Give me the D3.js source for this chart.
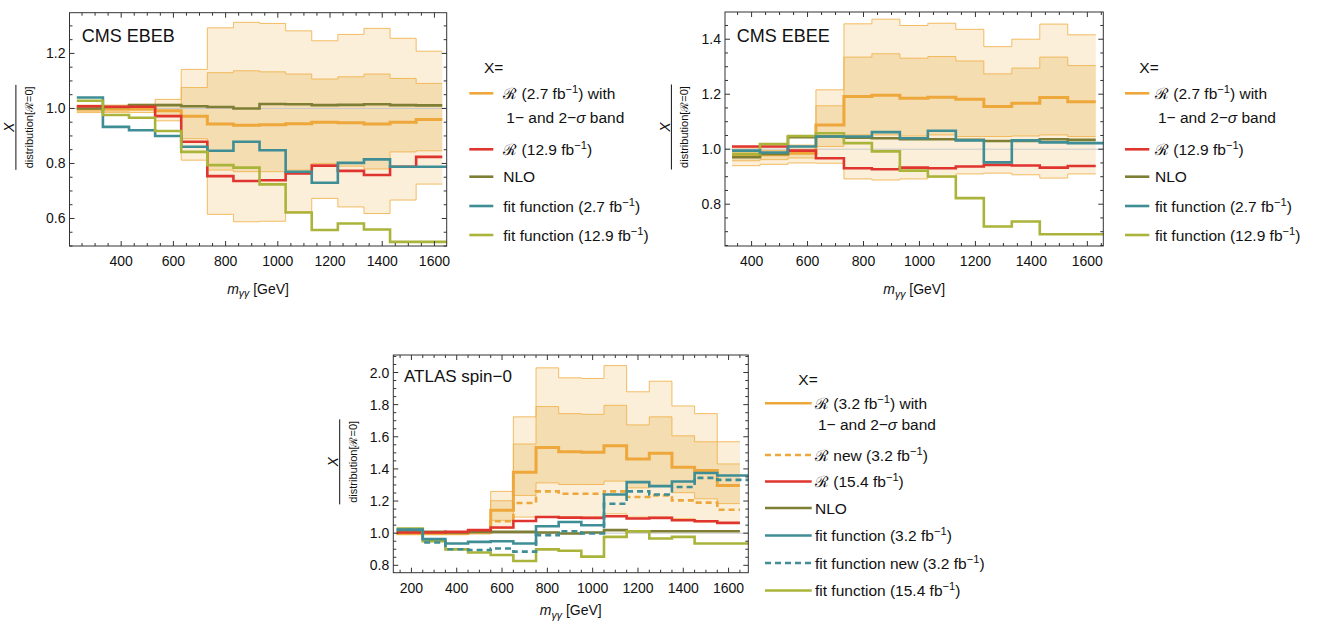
<!DOCTYPE html>
<html><head><meta charset="utf-8">
<script src="https://cdn.jsdelivr.net/npm/d3@7"></script>
<style>body{margin:0;background:#fff} text{font-family:"Liberation Sans",Arial,sans-serif;fill:#111}</style>
</head><body><svg id="c" width="1320" height="623"></svg>
<script>
// ---------------- DATA ----------------
// CMS EBEB
const ebebEdges = [230,330,430,530,630,730,830,930,1030,1130,1230,1330,1430,1530,1630];
const ebebR27   = [0.998,0.998,1.0,0.992,0.972,0.943,0.939,0.941,0.944,0.950,0.948,0.943,0.950,0.960];
const ebebR27s1hi = [1.005,1.005,1.008,1.015,1.076,1.130,1.137,1.133,1.125,1.107,1.115,1.125,1.109,1.091];
const ebebR27s1lo = [0.990,0.990,0.992,0.975,0.890,0.776,0.770,0.770,0.776,0.800,0.790,0.780,0.842,0.846];
const ebebR27s2hi = [1.012,1.012,1.015,1.033,1.142,1.293,1.313,1.309,1.282,1.246,1.269,1.291,1.255,1.208];
const ebebR27s2lo = [0.985,0.985,0.985,0.955,0.812,0.615,0.588,0.590,0.625,0.673,0.642,0.618,0.667,0.725];
const ebebR129  = [1.008,1.006,1.006,0.972,0.879,0.754,0.736,0.739,0.764,0.792,0.773,0.758,0.788,0.824];
const ebebNLO   = [1.000,1.005,1.012,1.012,1.008,1.005,1.000,1.016,1.015,1.012,1.013,1.015,1.012,1.011];
const ebebFit27 = [1.040,0.933,0.921,0.900,0.861,0.846,0.879,0.848,0.770,0.730,0.802,0.815,0.788,0.788];
const ebebFit129= [1.028,0.976,0.966,0.918,0.842,0.794,0.785,0.724,0.622,0.558,0.582,0.560,0.515,0.515];

// CMS EBEE
const ebeeEdges = [330,430,530,630,730,830,930,1030,1130,1230,1330,1430,1530,1630];
const ebeeR27   = [0.975,0.980,0.985,1.088,1.192,1.196,1.185,1.189,1.182,1.155,1.167,1.188,1.173];
const ebeeR27s1hi = [0.990,0.995,1.000,1.158,1.335,1.347,1.331,1.337,1.321,1.274,1.295,1.335,1.304];
const ebeeR27s1lo = [0.958,0.962,0.968,1.010,1.052,1.052,1.048,1.052,1.046,1.046,1.048,1.052,1.046];
const ebeeR27s2hi = [1.005,1.010,1.015,1.216,1.456,1.473,1.450,1.458,1.436,1.373,1.400,1.455,1.416];
const ebeeR27s2lo = [0.940,0.945,0.950,0.949,0.892,0.888,0.892,0.898,0.910,0.913,0.907,0.895,0.910];
const ebeeR129  = [1.010,1.010,0.995,0.967,0.931,0.927,0.933,0.931,0.937,0.943,0.941,0.933,0.939];
const ebeeNLO   = [0.971,0.983,1.044,1.046,1.042,1.040,1.036,1.036,1.034,1.030,1.030,1.036,1.034];
const ebeeFit27 = [0.995,0.988,1.010,1.046,1.046,1.062,1.040,1.067,1.032,0.952,1.032,1.025,1.022];
const ebeeFit129= [0.982,1.019,1.048,1.058,1.022,0.992,0.922,0.901,0.822,0.719,0.737,0.691,0.691];

// ATLAS spin-0
const atlasEdges = [135,250,350,450,550,650,750,850,950,1050,1150,1250,1350,1450,1550,1650];
const atlasR32   = [1.000,1.000,1.000,1.005,1.142,1.379,1.534,1.507,1.503,1.544,1.462,1.497,1.410,1.390,1.297];
const atlasR32s1hi = [1.005,1.005,1.005,1.015,1.202,1.555,1.788,1.744,1.740,1.796,1.674,1.724,1.606,1.569,1.431];
const atlasR32s1lo = [0.995,0.995,0.995,1.000,1.080,1.235,1.313,1.303,1.303,1.324,1.282,1.297,1.252,1.214,1.184];
const atlasR32s2hi = [1.010,1.010,1.010,1.020,1.260,1.724,2.029,1.967,1.963,2.043,1.880,1.946,1.792,1.744,1.569];
const atlasR32s2lo = [0.990,0.990,0.990,0.995,1.030,1.100,1.100,1.100,1.100,1.120,1.100,1.100,1.090,1.070,1.060];
const atlasRnew  = [1.000,1.000,1.000,1.005,1.074,1.188,1.260,1.245,1.245,1.260,1.225,1.235,1.204,1.190,1.146];
const atlasR154  = [1.004,1.004,1.008,1.019,1.035,1.076,1.101,1.097,1.095,1.105,1.091,1.095,1.080,1.074,1.064];
const atlasNLO   = [1.019,1.008,1.004,1.008,1.008,1.008,1.004,0.998,1.004,1.019,1.012,1.012,1.012,1.012,1.012];
const atlasFit32 = [1.023,0.963,0.936,0.946,0.950,0.936,1.043,1.070,1.049,1.241,1.318,1.293,1.322,1.375,1.359];
const atlasFitNew= [1.020,0.942,0.900,0.895,0.905,0.885,0.988,1.012,0.998,1.183,1.260,1.241,1.287,1.344,1.332];
const atlasFit154= [1.029,0.950,0.899,0.880,0.864,0.827,0.899,0.891,0.854,0.977,1.012,0.967,0.977,0.936,0.936];

// tick labels
const ebebXTicks = [400,600,800,1000,1200,1400,1600];
const ebebYTicks = [0.6,0.8,1.0,1.2];
const ebeeXTicks = [400,600,800,1000,1200,1400,1600];
const ebeeYTicks = [0.8,1.0,1.2,1.4];
const atlasXTicks = [200,400,600,800,1000,1200,1400,1600];
const atlasYTicks = [0.8,1.0,1.2,1.4,1.6,1.8,2.0];

// ---------------- STYLE ----------------
const C = {orange:"#EDA73A", red:"#E0352E", olive:"#7E7E34", teal:"#3F8D95", lime:"#ABB43A",
           band2:"#FBEFDA", band1:"#F5DDB2", bandEdge:"#F0B24A"};
const LF = 15.5; // legend font size

const svg = d3.select("#c");
const fmt = d3.format(".1f");

function rich(g, x, y, segs, size) {
  const t = g.append("text").attr("x", x).attr("y", y).attr("font-size", size);
  let shift = 0;
  segs.forEach(s => {
    const [str, st] = typeof s === "string" ? [s, ""] : s;
    const ts = t.append("tspan").text(str);
    let target = 0;
    if (st === "sup") { ts.attr("font-size", size*0.72); target = -size*0.38; }
    else if (st === "sub") { ts.attr("font-size", size*0.75).attr("font-style","italic"); target = size*0.28; }
    else if (st === "it") { ts.attr("font-style","italic"); }
    if (target !== shift) { ts.attr("dy", target - shift); shift = target; }
  });
  return t;
}

let clipId = 0;
function panel(cfg) {
  const x = d3.scaleLinear().domain(cfg.xd).range([cfg.box[0], cfg.box[1]]);
  const y = d3.scaleLinear().domain(cfg.yd).range([cfg.box[3], cfg.box[2]]);
  const g = svg.append("g");
  const id = "clip" + (clipId++);
  g.append("clipPath").attr("id", id).append("rect")
    .attr("x", cfg.box[0]).attr("y", cfg.box[2])
    .attr("width", cfg.box[1]-cfg.box[0]).attr("height", cfg.box[3]-cfg.box[2]);
  const pg = g.append("g").attr("clip-path", `url(#${id})`);

  const step = (edges, vals, ext) => {
    const pts = vals.map((v,i) => [edges[i], v]);
    pts.push([ext ? cfg.xd[1] + 100 : edges[edges.length-1], vals[vals.length-1]]);
    return pts;
  };
  const line = d3.line().x(d => x(d[0])).y(d => y(d[1])).curve(d3.curveStepAfter);
  const area = d3.area().x(d => x(d[0])).y0(d => y(d[1])).y1(d => y(d[2])).curve(d3.curveStepAfter);
  const bandPts = (lo, hi) => {
    const p = lo.map((v,i) => [cfg.edges[i], v, hi[i]]);
    p.push([cfg.edges[cfg.edges.length-1], lo[lo.length-1], hi[hi.length-1]]);
    return p;
  };
  const b = cfg.band;
  pg.append("path").attr("d", area(bandPts(b.s2lo, b.s2hi))).attr("fill", C.band2);
  pg.append("path").attr("d", area(bandPts(b.s1lo, b.s1hi))).attr("fill", C.band1);
  [b.s2lo, b.s2hi, b.s1lo, b.s1hi].forEach(arr => {
    pg.append("path").attr("d", line(step(cfg.edges, arr, false)))
      .attr("fill","none").attr("stroke", C.bandEdge).attr("stroke-width", 1).attr("opacity", 0.85);
  });
  pg.append("line").attr("x1", cfg.box[0]).attr("x2", cfg.box[1]).attr("y1", y(1)).attr("y2", y(1))
    .attr("stroke", "#c9c9c9").attr("stroke-width", 1);
  cfg.series.forEach(s => {
    pg.append("path").attr("d", line(step(cfg.edges, s.v, s.ext)))
      .attr("fill","none").attr("stroke", s.c).attr("stroke-width", s.w || 2.6)
      .attr("stroke-dasharray", s.dash || null).attr("stroke-linejoin","miter");
  });

  const [x0,x1,y0,y1] = cfg.box;
  const tk = g.append("g").attr("stroke", "#333").attr("stroke-width", 1);
  const xmin = d3.range(Math.ceil(cfg.xd[0]/50)*50, cfg.xd[1], 50);
  xmin.forEach(v => {
    const L = v % 200 === 0 ? 5 : 3;
    tk.append("line").attr("x1", x(v)).attr("x2", x(v)).attr("y1", y1).attr("y2", y1-L);
    tk.append("line").attr("x1", x(v)).attr("x2", x(v)).attr("y1", y0).attr("y2", y0+L);
  });
  const ymin = d3.range(Math.ceil(cfg.yd[0]/0.05 - 1e-6), Math.floor(cfg.yd[1]/0.05 + 1e-6) + 1).map(k => k*0.05);
  ymin.forEach(v => {
    const major = Math.abs(v*5 - Math.round(v*5)) < 1e-6;
    const L = major ? 5 : 3;
    tk.append("line").attr("y1", y(v)).attr("y2", y(v)).attr("x1", x0).attr("x2", x0+L);
    tk.append("line").attr("y1", y(v)).attr("y2", y(v)).attr("x1", x1).attr("x2", x1-L);
  });
  g.append("rect").attr("x", x0).attr("y", y0).attr("width", x1-x0).attr("height", y1-y0)
    .attr("fill","none").attr("stroke","#333").attr("stroke-width",1);
  cfg.xt.forEach(v => g.append("text").attr("x", x(v)).attr("y", y1+20).attr("text-anchor","middle")
    .attr("font-size",14).text(v));
  cfg.yt.forEach(v => g.append("text").attr("x", x0-4).attr("y", y(v)+5).attr("text-anchor","end")
    .attr("font-size",14).text(fmt(v)));

  const xt = rich(g, (x0+x1)/2, y1+cfg.titleGap, [["m","it"],["γγ","sub"]," [GeV]"], 14);
  xt.attr("text-anchor","middle");
  const cy = (y0+y1)/2 - 2;
  const fr = g.append("g").attr("transform", `translate(${x0-53.6},${cy}) rotate(-90)`);
  fr.append("text").attr("x",0).attr("y",-1.5).attr("text-anchor","middle").attr("font-size",14)
    .attr("font-style","italic").text("X");
  fr.append("line").attr("x1",-42.5).attr("x2",42.5).attr("y1",0).attr("y2",0).attr("stroke","#111").attr("stroke-width",1);
  fr.append("text").attr("x",0).attr("y",17).attr("text-anchor","middle").attr("font-size",11)
    .text("distribution[ℛ=0]");

  g.append("text").attr("x", cfg.lab[0]).attr("y", cfg.lab[1]).attr("font-size",cfg.labSize||18).text(cfg.label);

  const lg = cfg.legend;
  g.append("text").attr("x", lg.xX).attr("y", lg.yX).attr("font-size",LF).text("X=");
  lg.items.forEach(it => {
    if (it.c) {
      g.append("line").attr("x1", lg.l0).attr("x2", lg.l1).attr("y1", it.y).attr("y2", it.y)
        .attr("stroke", it.c).attr("stroke-width", 2.6).attr("stroke-dasharray", it.dash || null);
      rich(g, lg.tx, it.y + 5.5, it.t, LF);
    } else {
      rich(g, lg.tx + 3, it.y, it.t, LF);
    }
  });
}

const bandTxt = [" 1− and 2−", ["σ","it"], " band"];

panel({
  box:[69.5, 446.7, 12.7, 246], xd:[202, 1647], yd:[0.5, 1.348], titleGap:47.5,
  xt: ebebXTicks, yt: ebebYTicks, edges: ebebEdges,
  label:"CMS EBEB", lab:[81.7, 41.7],
  band:{s1lo:ebebR27s1lo, s1hi:ebebR27s1hi, s2lo:ebebR27s2lo, s2hi:ebebR27s2hi},
  series:[
    {v:ebebR27, c:C.orange, w:3},
    {v:ebebNLO, c:C.olive},
    {v:ebebR129, c:C.red},
    {v:ebebFit27, c:C.teal, ext:true},
    {v:ebebFit129, c:C.lime, ext:true}
  ],
  legend:{xX:484, yX:72.7, l0:469.3, l1:493.3, tx:503.3, items:[
    {y:93.3, c:C.orange, t:["ℛ (2.7 fb",["−1","sup"],") with"]},
    {y:122.7, t:bandTxt},
    {y:149.3, c:C.red, t:["ℛ (12.9 fb",["−1","sup"],")"]},
    {y:176.7, c:C.olive, t:["NLO"]},
    {y:206, c:C.teal, t:["fit function (2.7 fb",["−1","sup"],")"]},
    {y:235, c:C.lime, t:["fit function (12.9 fb",["−1","sup"],")"]}
  ]}
});

panel({
  box:[725, 1103.3, 12, 246], xd:[305, 1657], yd:[0.648, 1.499], titleGap:48,
  xt: ebeeXTicks, yt: ebeeYTicks, edges: ebeeEdges,
  label:"CMS EBEE", lab:[736.7, 41.7],
  band:{s1lo:ebeeR27s1lo, s1hi:ebeeR27s1hi, s2lo:ebeeR27s2lo, s2hi:ebeeR27s2hi},
  series:[
    {v:ebeeR27, c:C.orange, w:3},
    {v:ebeeNLO, c:C.olive},
    {v:ebeeR129, c:C.red},
    {v:ebeeFit129, c:C.lime, ext:true},
    {v:ebeeFit27, c:C.teal, ext:true}
  ],
  legend:{xX:1139.3, yX:72.7, l0:1125, l1:1149.3, tx:1155, items:[
    {y:93.3, c:C.orange, t:["ℛ (2.7 fb",["−1","sup"],") with"]},
    {y:122.7, t:bandTxt},
    {y:149.3, c:C.red, t:["ℛ (12.9 fb",["−1","sup"],")"]},
    {y:176.7, c:C.olive, t:["NLO"]},
    {y:206, c:C.teal, t:["fit function (2.7 fb",["−1","sup"],")"]},
    {y:235, c:C.lime, t:["fit function (12.9 fb",["−1","sup"],")"]}
  ]}
});

panel({
  box:[393.3, 748.3, 355, 572.7], xd:[120, 1687], yd:[0.754, 2.109], titleGap:42.5,
  xt: atlasXTicks, yt: atlasYTicks, edges: atlasEdges,
  label:"ATLAS spin−0", lab:[404, 382.3], labSize:17,
  band:{s1lo:atlasR32s1lo, s1hi:atlasR32s1hi, s2lo:atlasR32s2lo, s2hi:atlasR32s2hi},
  series:[
    {v:atlasR32, c:C.orange, w:3},
    {v:atlasRnew, c:C.orange, dash:"6,4"},
    {v:atlasNLO, c:C.olive},
    {v:atlasR154, c:C.red},
    {v:atlasFit154, c:C.lime, ext:true},
    {v:atlasFit32, c:C.teal, ext:true},
    {v:atlasFitNew, c:C.teal, dash:"6,4", ext:true}
  ],
  legend:{xX:798.3, yX:385, l0:765, l1:811.7, tx:815, items:[
    {y:403.3, c:C.orange, t:["ℛ (3.2 fb",["−1","sup"],") with"]},
    {y:430, t:bandTxt},
    {y:455, c:C.orange, dash:"6,4", t:["ℛ new (3.2 fb",["−1","sup"],")"]},
    {y:481.5, c:C.red, t:["ℛ (15.4 fb",["−1","sup"],")"]},
    {y:508, c:C.olive, t:["NLO"]},
    {y:535.5, c:C.teal, t:["fit function (3.2 fb",["−1","sup"],")"]},
    {y:563, c:C.teal, dash:"6,4", t:["fit function new (3.2 fb",["−1","sup"],")"]},
    {y:590.5, c:C.lime, t:["fit function (15.4 fb",["−1","sup"],")"]}
  ]}
});
</script></body></html>
